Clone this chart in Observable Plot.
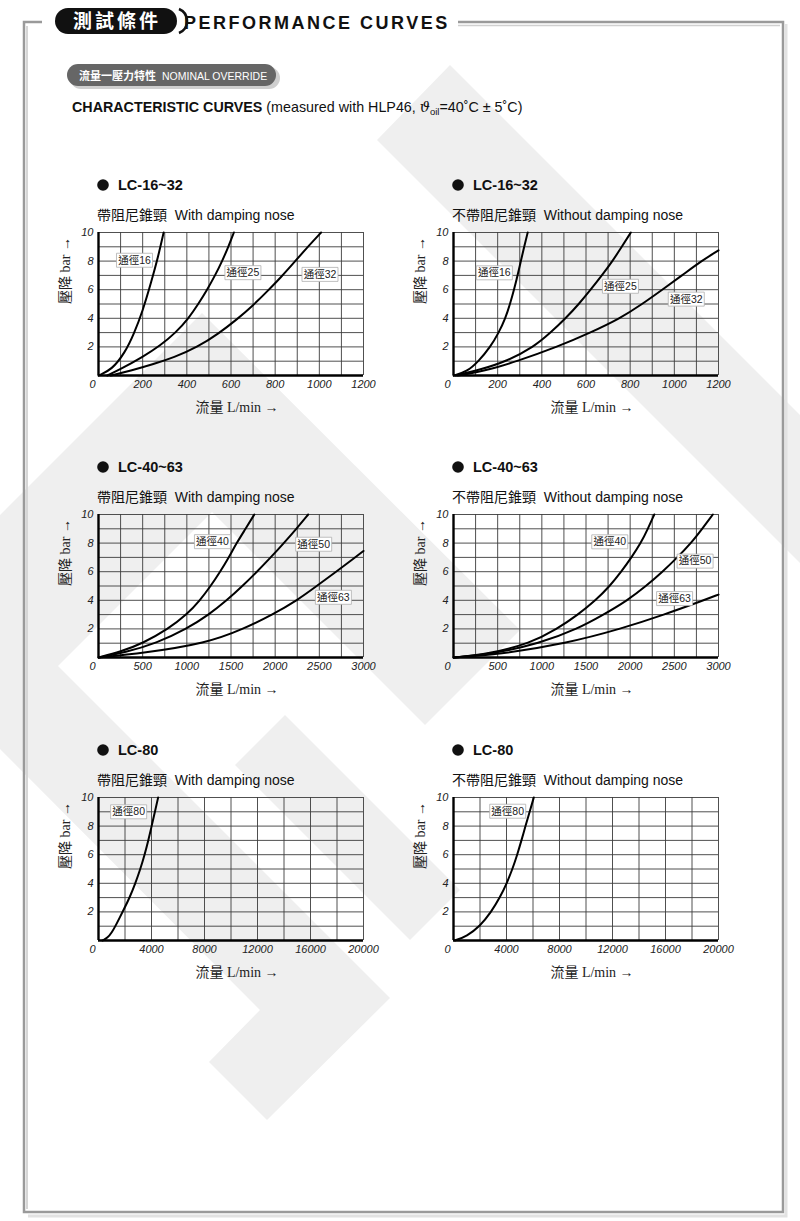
<!DOCTYPE html>
<html><head><meta charset="utf-8">
<script src="https://cdn.jsdelivr.net/npm/d3@7"></script>
<script src="https://cdn.jsdelivr.net/npm/@observablehq/plot@0.6"></script>
<style>
body{margin:0;background:#fff;}
#page{position:relative;width:800px;height:1221px;overflow:hidden;background:#fff;font-family:"Liberation Sans",Arial,"Noto Sans CJK TC",sans-serif;}
.abs{position:absolute;}
</style></head><body><div id="page"></div>
<script>
// ---------- DATA (flow L/min, pressure drop bar) ----------
const xTicks1200 = [0, 200, 400, 600, 800, 1000, 1200];
const xTicks3000 = [0, 500, 1000, 1500, 2000, 2500, 3000];
const xTicks20000 = [0, 4000, 8000, 12000, 16000, 20000];
const yTicks = [2, 4, 6, 8, 10];

// LC-16~32 with damping nose
const w16 = [[0,0],[60,0.4],[120,1.6],[160,2.9],[200,4.5],[240,6.6],[270,8.3],[295,10]];
const w25 = [[40,0],[100,0.45],[200,1.3],[280,2.1],[350,3],[408,4],[452,5],[492,6],[528,7],[560,8],[588,9],[613,10]];
const w32 = [[55,0],[150,0.35],[250,0.8],[340,1.25],[450,2],[545,2.95],[625,3.9],[700,4.9],[765,5.9],[828,6.9],[888,7.95],[948,9],[1008,10]];
const w16_32Labels = [{t:"通徑16",x:163,y:8.06},{t:"通徑25",x:654,y:7.19},{t:"通徑32",x:1003,y:7.07}];

// LC-16~32 without damping nose
const n16 = [[0,0],[60,0.25],[114,1],[167,2],[205,3],[235,4],[256,5],[274,6],[290,7],[305,8],[320,9],[336,10]];
const n25 = [[10,0],[120,0.4],[242,1],[364,2],[440,3],[508,4],[568,5],[621,6],[672,7],[720,8],[762,9],[803,10]];
const n32 = [[20,0],[150,0.35],[288,1],[470,2],[620,3],[755,4],[855,5],[945,6],[1035,7],[1122,8],[1200,8.75]];
const n16_32Labels = [{t:"通徑16",x:185,y:7.18},{t:"通徑25",x:756,y:6.24},{t:"通徑32",x:1054,y:5.34}];

// LC-40~63 with damping nose
const w40 = [[0,0],[250,0.4],[504,1],[789,2],[1000,3],[1149,4],[1270,5],[1377,6],[1475,7],[1563,8],[1665,9],[1764,10]];
const w50 = [[0,0],[300,0.35],[656,1],[998,2],[1250,3],[1453,4],[1630,5],[1794,6],[1950,7],[2098,8],[2240,9],[2374,10]];
const w63 = [[0,0],[500,0.3],[1225,1],[1642,2],[1970,3],[2249,4],[2470,5],[2690,6],[2905,7],[3000,7.45]];
const w40_63Labels = [{t:"通徑40",x:1290,y:8.1},{t:"通徑50",x:2436,y:7.92},{t:"通徑63",x:2659,y:4.21}];

// LC-40~63 without damping nose
const n40 = [[0,0],[400,0.25],[871,1],[1174,2],[1410,3],[1610,4],[1770,5],[1900,6],[2015,7],[2121,8],[2200,9],[2273,10]];
const n50 = [[0,0],[400,0.2],[985,1],[1402,2],[1700,3],[1970,4],[2180,5],[2367,6],[2535,7],[2689,8],[2815,9],[2936,10]];
const n63 = [[0,0],[500,0.2],[1288,1],[1894,2],[2386,3],[2830,4],[3000,4.4]];
const n40_63Labels = [{t:"通徑40",x:1769,y:8.09},{t:"通徑50",x:2735,y:6.74},{t:"通徑63",x:2503,y:4.12}];

// LC-80
const w80 = [[300,0],[700,0.2],[1000,0.55],[1300,1.05],[1600,1.6],[1900,2.15],[2350,3],[2780,4],[3160,5],[3480,6],[3760,7],[4010,8],[4260,9],[4500,10]];
const w80Labels = [{t:"通徑80",x:2275,y:9.0}];
const n80 = [[100,0],[1000,0.3],[2000,1],[2850,2],[3500,3],[4020,4],[4450,5],[4810,6],[5130,7],[5430,8],[5750,9],[6060,10]];
const n80Labels = [{t:"通徑80",x:4091,y:9.04}];

// ---------- PAGE DECORATION ----------
const page = document.getElementById("page");
const NS = "http://www.w3.org/2000/svg";
const deco = document.createElementNS(NS, "svg");
deco.setAttribute("width", 800); deco.setAttribute("height", 1221);
deco.setAttribute("class", "abs"); deco.style.left = "0px"; deco.style.top = "0px";
deco.innerHTML = `
  <g fill="#efefef">
    <polygon points="450,65 377,140 800,563 800,415"/>
    <polygon points="0,515 202,313 520,630 425,725 212,512 0,724"/>
    <polygon points="285,715 460,890 410,940 235,765"/>
    <polygon points="0,608 0,749 260,1010 209,1062 267,1120 390,998"/>
  </g>
  <g fill="none">
    <path d="M42,22 H24 V1212 H783 V22 H458" stroke="#9a9a9a" stroke-width="2.5"/>
    <path d="M27,26 V1209" stroke="#d6d6d6" stroke-width="2"/>
    <path d="M458,25.5 H780" stroke="#d0d0d0" stroke-width="1.5"/>
    <path d="M786,24 V1216 H28" stroke="#e2e2e2" stroke-width="3"/>
  </g>
  <rect x="55" y="8" width="122" height="26" rx="13" fill="#111"/>
  <path d="M172,9 A13 13 0 0 1 172,33" stroke="#111" stroke-width="2.5" fill="none" transform="translate(7,0)"/>
  <text x="73" y="28" fill="#fff" font-family="Noto Sans CJK TC" font-weight="bold" font-size="19" letter-spacing="3">測試條件</text>
  <text x="184" y="29" fill="#111" font-family="Liberation Sans" font-weight="bold" font-size="18" letter-spacing="2.5">PERFORMANCE CURVES</text>
  <rect x="70" y="67" width="210" height="22" rx="11" fill="#cfcfcf"/>
  <rect x="67" y="64" width="209" height="22" rx="11" fill="#666"/>
  <text x="79" y="80" fill="#fff" font-size="11"><tspan font-family="Noto Sans CJK TC" font-weight="bold">流量一壓力特性</tspan><tspan font-family="Liberation Sans" font-size="10.5" dx="6">NOMINAL OVERRIDE</tspan></text>
  <text x="72" y="112" fill="#111" font-family="Liberation Sans" font-size="14.3"><tspan font-weight="bold">CHARACTERISTIC CURVES</tspan> (measured with HLP46, <tspan font-style="italic" font-family="DejaVu Serif">ϑ</tspan><tspan font-size="9.5" dy="3">oil</tspan><tspan dy="-3">=40˚C ± 5˚C)</tspan></text>
`;
page.appendChild(deco);

function addText(x, y, html, size, weight, fam) {
  const t = document.createElementNS(NS, "text");
  t.setAttribute("x", x); t.setAttribute("y", y);
  t.setAttribute("font-size", size);
  if (weight) t.setAttribute("font-weight", weight);
  t.setAttribute("font-family", fam || "Liberation Sans, Noto Sans CJK TC");
  t.setAttribute("fill", "#111");
  t.innerHTML = html;
  deco.appendChild(t);
}

// label box drawn as a custom Plot symbol (fixed pixel rectangle around the label point)
const labelBox = {draw(context) { context.rect(-18, -7, 36, 14); }};

// ---------- CHARTS ----------
const W = 265, H = 143, mL = 50, mR = 24, mT = 10, mB = 48;
function chart(cfg) {
  const data = cfg.series.flatMap(([name, pts]) => pts.map(([x, y]) => ({name, x, y})));
  const tickFont = {fontStyle: "italic", fontSize: 11, fontFamily: "Liberation Sans, sans-serif", fill: "#222"};
  const svg = Plot.plot({
    width: mL + W + mR, height: mT + H + mB,
    marginLeft: mL, marginRight: mR, marginTop: mT, marginBottom: mB,
    style: {background: "transparent", overflow: "visible"},
    x: {domain: [0, cfg.xMax]},
    y: {domain: [0, 10]},
    marks: [
      Plot.ruleX(d3.range(cfg.xStep, cfg.xMax + 1, cfg.xStep), {stroke: "#3c3c3c", strokeWidth: 0.9}),
      Plot.ruleY(d3.range(1, 11), {stroke: "#3c3c3c", strokeWidth: 0.9}),
      Plot.line(data, {x: "x", y: "y", z: "name", curve: "basis", stroke: "#000", strokeWidth: 2}),
      Plot.dot(cfg.labels, {x: "x", y: "y", symbol: labelBox, fill: "white", stroke: "#b0b0b0", strokeWidth: 0.8}),
      Plot.text(cfg.labels, {x: "x", y: "y", text: "t", fill: "#222",
        fontSize: 10.5, fontFamily: "Liberation Sans, Noto Sans CJK TC"}),
      Plot.ruleX([0], {stroke: "#000", strokeWidth: 2.4}),
      Plot.ruleY([0], {stroke: "#000", strokeWidth: 2.6}),
      Plot.axisY({ticks: yTicks, tickSize: 0, tickPadding: 5, tickFormat: d => String(d), label: null, ...tickFont}),
      Plot.axisX({ticks: cfg.xTicks.filter(d => d > 0), tickSize: 0, tickPadding: 5, tickFormat: d => String(d), label: null, ...tickFont}),
      Plot.text([0], {x: d => d, frameAnchor: "bottom", lineAnchor: "top", dy: 5, dx: -6, text: d => String(d), ...tickFont}),
      Plot.text(["流量 L/min →"], {frameAnchor: "bottom", dy: 36, dx: 6, fontSize: 14, fill: "#222",
        fontFamily: "Liberation Serif, Noto Sans CJK TC, serif"}),
      Plot.text(["壓降 bar →"], {frameAnchor: "left", rotate: -90, dx: -33, fontSize: 14, fill: "#222",
        fontFamily: "Liberation Serif, Noto Sans CJK TC, serif"})
    ]
  });
  svg.classList.add("abs");
  svg.style.left = (cfg.left - mL) + "px";
  svg.style.top = (cfg.top - mT) + "px";
  page.appendChild(svg);

  // block titles
  const bx = cfg.left + 5;
  const c = document.createElementNS(NS, "circle");
  c.setAttribute("cx", bx); c.setAttribute("cy", cfg.top - 47); c.setAttribute("r", 5.8); c.setAttribute("fill", "#111");
  deco.appendChild(c);
  addText(bx + 15, cfg.top - 42, cfg.title, 14.5, "bold");
  addText(cfg.left - 1, cfg.top - 12, cfg.sub, 14, null);
}

const WITH = "帶阻尼錐頸&#160;&#160;With damping nose";
const WITHOUT = "不帶阻尼錐頸&#160;&#160;Without damping nose";
const LX = 98, RX = 453;
chart({left: LX, top: 232, xMax: 1200, xStep: 100, xTicks: xTicks1200, title: "LC-16~32", sub: WITH,
  series: [["16", w16], ["25", w25], ["32", w32]], labels: w16_32Labels});
chart({left: RX, top: 232, xMax: 1200, xStep: 100, xTicks: xTicks1200, title: "LC-16~32", sub: WITHOUT,
  series: [["16", n16], ["25", n25], ["32", n32]], labels: n16_32Labels});
chart({left: LX, top: 514, xMax: 3000, xStep: 250, xTicks: xTicks3000, title: "LC-40~63", sub: WITH,
  series: [["40", w40], ["50", w50], ["63", w63]], labels: w40_63Labels});
chart({left: RX, top: 514, xMax: 3000, xStep: 250, xTicks: xTicks3000, title: "LC-40~63", sub: WITHOUT,
  series: [["40", n40], ["50", n50], ["63", n63]], labels: n40_63Labels});
chart({left: LX, top: 797, xMax: 20000, xStep: 2000, xTicks: xTicks20000, title: "LC-80", sub: WITH,
  series: [["80", w80]], labels: w80Labels});
chart({left: RX, top: 797, xMax: 20000, xStep: 2000, xTicks: xTicks20000, title: "LC-80", sub: WITHOUT,
  series: [["80", n80]], labels: n80Labels});
</script></body></html>
